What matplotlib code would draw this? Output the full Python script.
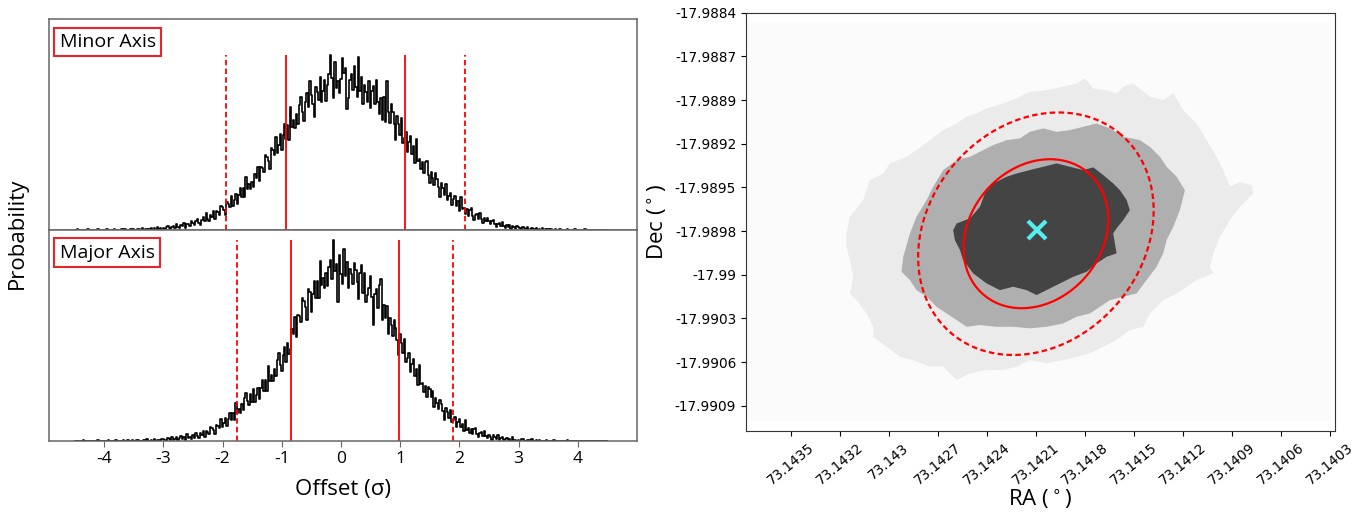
import numpy as np
import matplotlib
matplotlib.use('Agg')
import matplotlib.pyplot as plt

plt.rcParams['font.family'] = ['Open Sans', 'DejaVu Sans']
plt.rcParams['axes.unicode_minus'] = False

# ---------------- left panels: offset distributions ----------------
# bin centres run from -4.5 to 4.5 sigma in steps of 0.025 (one row = 1 sigma)
minor_prob = [
    0, 0, 0.3, 0, 0, 0, 0.2, 0, 0, 0.3, 0, 0, 0, 0.2, 0, 0, 0.3, 0, 0, 0.2,
    0, 0, 0.3, 0, 0.2, 0, 0, 0.4, 0, 0.2, 0, 0, 0.3, 0, 0.5, 0, 0.2, 0, 0.4, 0.1,
    0.4, 0.1, 0, 0.5, 0.4, 0.1, 0.8, 0, 0.3, 0.7, 0, 0.5, 1.0, 0.2, 0.8, 0, 1.7, 0.5, 0.8, 0.2,
    1.0, 0.3, 1.5, 2.0, 0.9, 0.2, 1.5, 2.1, 1.0, 3.1, 1.6, 0.9, 2.5, 1.8, 3.3, 1.0, 3.1, 2.8, 2.1, 4.6,
    3.7, 2.3, 4.7, 5.7, 3.7, 2.5, 5.1, 6.3, 4.4, 8.3, 5.7, 4.5, 7.6, 6.5, 9.3, 5.4, 9.3, 8.8, 7.6, 12.1,
    11.5, 10.2, 7.7, 13.9, 13.2, 11.7, 17.1, 12.0, 14.7, 17.7, 13.1, 17.4, 20.7, 16.4, 20.8, 16.2, 26.6, 20.3, 22.8, 20.2,
    23.7, 21.6, 27.9, 25.8, 31.5, 24.2, 31.6, 31.0, 29.0, 37.4, 36.5, 34.2, 30.2, 40.8, 39.9, 37.5, 46.4, 38.4, 42.6, 47.8,
    40.1, 47.3, 52.6, 45.4, 52.4, 45.0, 61.2, 51.1, 54.8, 50.6, 57.9, 52.7, 62.5, 66.4, 58.6, 54.4, 63.9, 68.2, 61.4, 74.4,
    67.1, 63.0, 56.3, 71.1, 68.9, 64.6, 76.3, 64.0, 69.1, 74.7, 64.2, 72.2, 77.7, 87.0, 75.5, 65.9, 83.7, 70.9, 74.1, 68.3,
    75.4, 85.6, 78.0, 80.9, 60.2, 65.8, 74.6, 77.9, 69.7, 81.9, 71.5, 66.1, 86.0, 69.2, 76.2, 62.7, 72.1, 69.0, 63.8, 74.1,
    60.9, 69.1, 71.8, 63.0, 74.6, 63.7, 57.8, 65.9, 55.0, 66.4, 53.7, 74.5, 58.8, 53.4, 62.8, 58.8, 53.0, 44.9, 56.6, 52.8,
    47.3, 55.7, 43.4, 46.0, 49.0, 38.8, 43.8, 46.7, 37.7, 42.0, 33.2, 45.2, 34.5, 35.6, 30.3, 34.1, 28.2, 33.7, 34.6, 27.4,
    23.2, 28.7, 26.1, 22.4, 28.3, 25.5, 21.6, 16.5, 23.6, 21.1, 17.6, 22.7, 15.1, 16.7, 18.4, 12.5, 15.4, 17.1, 11.8, 14.3,
    9.4, 16.3, 10.3, 11.0, 8.1, 10.3, 7.2, 10.2, 10.8, 7.2, 4.9, 7.4, 8.1, 5.3, 8.6, 5.4, 3.7, 5.9, 4.3, 6.0,
    4.7, 2.8, 4.7, 5.2, 2.9, 1.5, 3.2, 3.7, 1.9, 4.2, 2.1, 1.1, 2.5, 1.6, 2.7, 0.5, 1.9, 1.45, 0.7, 2.1,
    1.6, 0.9, 0, 1.5, 1.1, 0.5, 1.6, 0.2, 0.6, 1.0, 0, 0.6, 1.0, 0.1, 0.6, 0, 1.1, 0.2, 0.3, 0,
    0.3, 0, 0.5, 0.2, 0, 0.4, 0, 0, 0.3, 0, 0.2, 0, 0, 0.4, 0, 0, 0.2, 0, 0.3, 0,
    0, 0, 0.2, 0, 0, 0.3, 0, 0, 0, 0.2, 0, 0, 0, 0, 0.2, 0, 0, 0, 0, 0,
    0]
major_prob = [
    0, 0, 0.2, 0, 0, 0, 0.3, 0, 0, 0, 0.2, 0, 0, 0.1, 0, 0, 0.3, 0, 0, 0,
    0.2, 0, 0, 0.3, 0, 0, 0.2, 0, 0.4, 0, 0, 0.2, 0, 0.3, 0, 0, 0.5, 0, 0.2, 0.3,
    0.2, 0, 0.3, 0.4, 0, 0, 0.2, 0.4, 0, 0.8, 0.2, 0, 0.5, 0.2, 0.8, 0, 0.6, 0.5, 0.1, 1.1,
    0.9, 0.5, 0, 1.3, 1.1, 0.6, 2.0, 0.5, 1.1, 1.9, 0.4, 1.6, 2.4, 1.0, 2.2, 0.7, 3.6, 1.5, 2.1, 1.1,
    3.0, 1.7, 4.2, 2.5, 1.7, 3.8, 3.0, 4.9, 2.1, 4.8, 4.5, 3.6, 6.9, 6.4, 5.4, 3.5, 8.1, 7.7, 6.5, 10.7,
    6.8, 8.8, 11.2, 7.6, 11.1, 13.8, 10.3, 13.9, 10.2, 18.9, 13.8, 16.0, 13.9, 18.3, 15.6, 21.4, 24.0, 19.9, 17.8, 23.6,
    19.4, 26.0, 19.6, 22.9, 26.6, 21.1, 26.4, 30.2, 25.0, 30.4, 25.0, 37.4, 29.8, 32.9, 29.9, 35.8, 32.1, 40.1, 43.7, 37.8,
    34.9, 43.0, 47.0, 39.3, 49.0, 43.2, 45.8, 55.6, 53.2, 61.7, 51.7, 62.5, 62.0, 59.2, 71.3, 69.9, 66.5, 60.4, 75.8, 74.2,
    64.0, 73.0, 79.5, 71.0, 79.5, 71.0, 89.5, 77.5, 81.3, 76.0, 83.5, 76.9, 86.8, 90.0, 80.7, 100.0, 84.5, 88.1, 69.0, 92.8,
    82.9, 78.0, 95.3, 81.9, 89.3, 76.1, 85.8, 83.0, 78.1, 88.5, 84.9, 79.1, 70.8, 83.8, 87.6, 73.6, 83.4, 69.2, 72.5, 76.3,
    82.0, 71.5, 57.5, 73.0, 75.5, 66.3, 77.5, 80.5, 60.0, 67.6, 61.2, 67.0, 53.4, 61.2, 57.6, 52.1, 60.4, 56.2, 50.5, 42.7,
    53.0, 49.0, 43.6, 51.0, 39.2, 41.4, 43.9, 34.1, 38.4, 40.6, 32.2, 35.7, 27.8, 38.0, 28.4, 29.1, 24.2, 27.4, 22.1, 26.7,
    25.7, 21.9, 25.1, 16.9, 21.3, 19.1, 15.8, 20.6, 18.2, 15.0, 10.6, 16.4, 14.3, 11.4, 15.4, 9.3, 10.6, 12.0, 7.2, 9.6,
    10.9, 6.8, 8.7, 5.0, 10.2, 5.7, 6.3, 4.1, 5.8, 3.6, 5.9, 6.3, 3.6, 2.1, 3.9, 4.5, 2.4, 4.9, 2.6, 1.4,
    3.1, 2.0, 0.5, 2.8, 2.1, 1.2, 2.8, 0.7, 1.3, 1.9, 0.3, 1.2, 1.7, 0.5, 1.2, 0, 1.8, 0.4, 0.7, 0.1,
    0.7, 0, 0.8, 1.0, 0.2, 0, 0.4, 0.6, 0, 0.8, 0.2, 0, 0.3, 0.1, 0.4, 0, 0.2, 0.1, 0, 0.4,
    0, 0.2, 0, 0, 0.3, 0, 0.1, 0, 0, 0.2, 0, 0, 0, 0.3, 0, 0, 0.1, 0, 0, 0.2,
    0, 0, 0, 0, 0.2, 0, 0, 0, 0.1, 0, 0, 0, 0.2, 0, 0, 0, 0, 0.1, 0, 0.2,
    0.1]

# credible interval limits: 95% low, 68% low, 68% high, 95% high
minor_lims = [-1.94, -0.93, 1.08, 2.09]
major_lims = [-1.76, -0.85, 0.98, 1.89]
offset_ticks = [-4, -3, -2, -1, 0, 1, 2, 3, 4]

# ---------------- right panel: sky position ----------------
ra0, dec0 = 73.142037, -17.989783
ra_labels = ['73.1435', '73.1432', '73.143', '73.1427', '73.1424', '73.1421',
             '73.1418', '73.1415', '73.1412', '73.1409', '73.1406', '73.1403']
dec_labels = ['-17.9884', '-17.9887', '-17.9889', '-17.9892', '-17.9895',
              '-17.9898', '-17.99', '-17.9903', '-17.9906', '-17.9909']
ra_ticks = np.linspace(73.14350, 73.14030, len(ra_labels))
dec_ticks = np.linspace(-17.98840, -17.99090, len(dec_labels))
ra_lim = (73.143767, 73.140269)
dec_lim = (-17.991061, -17.98840)
grid_ra = (73.14376, 73.14029)
grid_dec = (-17.98846, -17.99100)

# contour outlines, offsets from (ra0, dec0) in units of 1e-4 deg
outer_dra = [11.33, 11.13, 10.34, 9.94, 9.15, 8.75, 7.76, 7.17, 6.38, 5.58, 4.79, 4.20, 3.60,
             3.01, 2.02, 1.23, 0.44, -0.55, -1.54, -2.34, -2.83, -3.33, -4.12, -4.71, -5.11,
             -5.70, -6.69, -7.48, -8.08, -8.67, -9.46, -10.06, -10.65, -11.05, -11.44, -12.04,
             -12.73, -12.83, -12.04, -11.44, -10.85, -10.45, -10.26, -10.45, -9.46, -8.28, -7.48,
             -6.69, -6.30, -5.50, -4.71, -3.92, -3.13, -2.34, -1.54, -0.55, 0.44, 1.23, 2.02,
             3.01, 4.00, 4.79, 5.58, 6.38, 7.37, 8.16, 8.95, 9.74, 9.74, 10.14, 10.73, 11.13,
             10.93, 11.13, 11.33]
outer_ddec = [-0.21, 0.85, 1.91, 3.18, 3.60, 4.24, 4.66, 5.09, 5.72, 6.36, 6.78, 7.21, 7.42,
              7.74, 8.06, 8.37, 8.80, 8.90, 9.12, 9.33, 9.65, 9.01, 8.90, 8.69, 9.12, 9.33,
              8.48, 8.27, 8.69, 7.63, 6.78, 5.72, 4.66, 3.82, 2.76, 3.07, 2.86, 2.33, 1.48,
              0.64, -0.42, -1.48, -2.33, -2.76, -3.18, -4.03, -4.45, -5.30, -6.15, -6.36, -7.00,
              -7.42, -7.84, -8.06, -8.27, -8.48, -8.27, -8.69, -8.90, -8.90, -9.12, -9.54, -8.69,
              -8.69, -8.27, -8.06, -7.42, -6.78, -6.15, -5.30, -4.45, -4.03, -2.97, -1.91, -1.06]
mid_dra = [8.06, 7.96, 7.56, 7.17, 6.57, 6.18, 5.58, 4.79, 4.00, 3.21, 2.61, 1.82, 1.03, 0.44,
           -0.36, -1.15, -1.94, -2.73, -3.52, -4.32, -5.11, -6.10, -6.69, -7.29, -7.68, -8.28,
           -8.77, -8.47, -8.08, -7.68, -7.48, -7.09, -6.49, -5.90, -5.11, -4.32, -3.72, -3.13,
           -2.34, -1.54, -0.55, 0.44, 1.43, 2.42, 3.41, 4.20, 4.79, 5.39, 5.98, 6.57, 7.17, 7.56]
mid_ddec = [-2.65, -1.70, -0.21, 0.85, 1.91, 2.76, 3.82, 4.45, 4.66, 5.09, 5.41, 5.72, 5.83,
            6.25, 6.47, 6.25, 6.36, 6.57, 6.78, 6.47, 5.94, 5.72, 5.30, 4.66, 4.03, 3.39, 2.54,
            1.27, 0.21, -0.64, -1.48, -2.33, -3.18, -4.03, -4.24, -4.45, -4.88, -5.30, -5.51,
            -5.94, -6.15, -6.25, -6.15, -6.15, -6.04, -6.15, -5.72, -5.30, -4.88, -4.24, -3.82, -3.18]
core_dra = [4.99, 4.79, 4.00, 3.41, 3.11, 2.61, 1.82, 1.23, 0.44, -0.36, -1.15, -1.94, -2.73,
            -3.33, -3.92, -4.51, -4.91, -5.31, -5.50, -5.11, -4.71, -4.51, -4.71, -4.12, -3.52,
            -2.93, -2.14, -1.35, -0.55, 0.04, 0.63, 1.43, 2.22, 3.01, 3.80, 4.40, 4.59, 4.89]
core_ddec = [0.00, 0.42, 0.74, 1.48, 2.33, 2.97, 3.39, 3.60, 3.82, 4.03, 4.24, 4.03, 3.82, 3.99,
             3.50, 2.97, 2.54, 1.91, 1.27, 0.64, 0.11, -0.21, -1.48, -1.70, -2.12, -2.65, -2.97,
             -3.39, -3.82, -4.13, -3.82, -3.60, -3.82, -3.39, -2.76, -1.91, -1.27, -0.64]

# error ellipses (centre offset, semi-major and semi-minor vectors, 1e-4 deg)
ell_center = (0.08, -0.23)
ell68_major = (-3.13, 3.86)
ell68_minor = (2.95, 2.75)
ell95_major = (-5.06, 6.30)
ell95_minor = (4.83, 4.45)

fig = plt.figure(figsize=(13.7, 5.12), dpi=100)
ax1 = fig.add_axes([0.0358, 0.5508, 0.4292, 0.4115])
ax2 = fig.add_axes([0.0358, 0.1387, 0.4292, 0.4121], sharex=ax1, sharey=ax1)
ax3 = fig.add_axes([0.5445, 0.1582, 0.4299, 0.817])

box = dict(boxstyle='square,pad=0.28', fc='white', ec='#e8252e', lw=1.5)
for ax, prob, lims, name in [(ax1, minor_prob, minor_lims, 'Minor Axis'),
                             (ax2, major_prob, major_lims, 'Major Axis')]:
    x = np.linspace(-4.5, 4.5, len(prob))
    ax.step(x, prob, where='mid', color='black', lw=1.2)
    top = max(prob)
    ax.vlines([lims[1], lims[2]], 0, top, colors='red', lw=1.3)
    ax.vlines([lims[0], lims[3]], 0, top, colors='red', lw=1.3, linestyles=(0, (3, 1.8)))
    ax.text(0.018, 0.935, name, transform=ax.transAxes, fontsize=14, va='top', ha='left', bbox=box)
    for s in ax.spines.values():
        s.set_color('#666666')
        s.set_linewidth(1.1)

ax1.set_xlim(-4.93, 5.0)
ax1.set_ylim(0, 105)
ax1.tick_params(bottom=False, labelbottom=False, left=False, labelleft=False)
ax2.tick_params(left=False, labelleft=False, labelsize=12.5, length=4, color='#666666')
ax2.set_xticks(offset_ticks)
ax2.set_xlabel('Offset (σ)', fontsize=16, labelpad=8)
fig.text(0.013, 0.545, 'Probability', rotation=90, va='center', ha='center', fontsize=16)

# sky panel
ax3.fill([grid_ra[0], grid_ra[1], grid_ra[1], grid_ra[0]],
         [grid_dec[0], grid_dec[0], grid_dec[1], grid_dec[1]], color='#fbfbfb', lw=0)
for dra, ddec, col in [(outer_dra, outer_ddec, '#ebebeb'),
                       (mid_dra, mid_ddec, '#afafaf'),
                       (core_dra, core_ddec, '#444444')]:
    ax3.fill(ra0 + np.array(dra) * 1e-4, dec0 + np.array(ddec) * 1e-4, color=col, lw=0)

t = np.linspace(0, 2 * np.pi, 300)
for major, minor, ls in [(ell68_major, ell68_minor, '-'), (ell95_major, ell95_minor, (0, (2.5, 1.5)))]:
    era = ell_center[0] + major[0] * np.cos(t) + minor[0] * np.sin(t)
    edec = ell_center[1] + major[1] * np.cos(t) + minor[1] * np.sin(t)
    ax3.plot(ra0 + era * 1e-4, dec0 + edec * 1e-4, color='red', lw=1.6, linestyle=ls)

ax3.plot(ra0, dec0, marker='x', ms=13, mew=3, color='#55eeee', linestyle='none')

ax3.set_xlim(*ra_lim)
ax3.set_ylim(*dec_lim)
ax3.set_xticks(ra_ticks)
ax3.set_xticklabels(ra_labels, rotation=40, fontsize=9.8, fontfamily='DejaVu Sans')
ax3.set_yticks(dec_ticks)
ax3.set_yticklabels(dec_labels, fontsize=9.8, fontfamily='DejaVu Sans')
ax3.set_xlabel('RA ($^\\circ$)', fontsize=16, labelpad=0)
ax3.set_ylabel('Dec ($^\\circ$)', fontsize=16)
for s in ax3.spines.values():
    s.set_color('#333333')

fig.savefig('out.png', dpi=100)
